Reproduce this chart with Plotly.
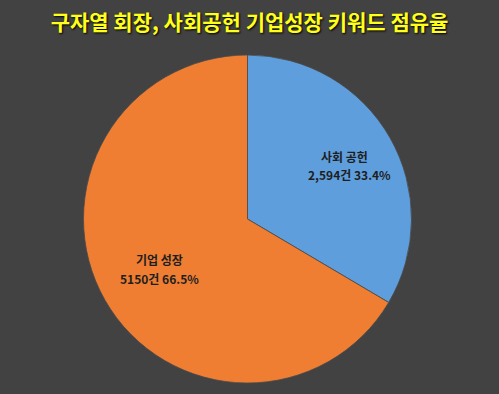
import plotly.graph_objects as go

categories = ["사회 공헌", "기업 성장"]
values = [2594, 5150]
count_labels = ["2,594건", "5150건"]
pct_labels = ["33.4%", "66.5%"]
title_text = "구자열 회장, 사회공헌 기업성장 키워드 점유율"

W, H = 499, 394
fig = go.Figure()
fig.add_trace(go.Pie(
    labels=categories,
    values=values,
    sort=False,
    direction="clockwise",
    rotation=0,
    textinfo="none",
    hoverinfo="label+value+percent",
    marker=dict(colors=["#5F9EDC", "#EF7E33"], line=dict(color="#4a4a4a", width=0.8)),
    domain=dict(x=[83 / W, 412 / W], y=[1 - 383 / H, 1 - 55 / H]),
    showlegend=False,
))

lab_font = dict(family="Noto Sans CJK KR", size=12, color="#1e1e1e", weight="bold")
label_pos = [((344, 156), (349, 175)), ((159, 259), (159, 278))]
annotations = []
for i, cat in enumerate(categories):
    (x1, y1), (x2, y2) = label_pos[i]
    annotations.append(dict(text=cat, x=x1 / W, y=1 - y1 / H, xref="paper", yref="paper",
                            showarrow=False, font=lab_font, xanchor="center", yanchor="middle"))
    annotations.append(dict(text=f"{count_labels[i]} {pct_labels[i]}", x=x2 / W, y=1 - y2 / H,
                            xref="paper", yref="paper", showarrow=False, font=lab_font,
                            xanchor="center", yanchor="middle"))

fig.update_layout(
    width=W, height=H,
    margin=dict(l=0, r=0, t=0, b=0),
    paper_bgcolor="#424242",
    plot_bgcolor="#424242",
    title=dict(text=title_text, x=0.5, xanchor="center", y=1 - 23 / H, yanchor="middle",
               font=dict(family="Noto Sans CJK KR", size=21, color="#FFFF1A", weight="bold",
                         shadow="1px 1px 2px #000000")),
    annotations=annotations,
)
fig.write_html("out.html")
